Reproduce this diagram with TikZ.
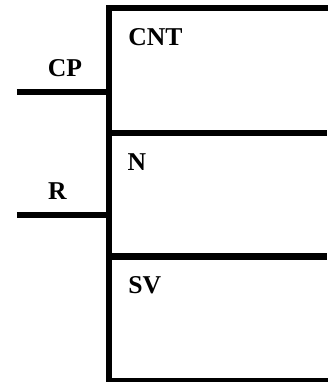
\documentclass[tikz,border=0pt]{standalone}
\usepackage{fontspec}
\setmainfont{Liberation Serif}
\tikzset{
  wire/.style={line width=0.126cm,black},
  pinlabel/.style={inner sep=0pt,font=\fontsize{14.6pt}{16pt}\selectfont\bfseries}
}
\begin{document}
\begin{tikzpicture}
    \useasboundingbox (0,0) rectangle (6.54,7.64);
    % corners of the block and its dividers
    \coordinate (topleft) at (2.18,7.48);
    \coordinate (topright) at (6.54,7.48);
    \coordinate (midleftA) at (2.18,4.986);
    \coordinate (midrightA) at (6.54,4.986);
    \coordinate (midleftB) at (2.18,2.51);
    \coordinate (midrightB) at (6.54,2.51);
    \coordinate (botleft) at (2.18,0.01);
    \coordinate (botright) at (6.54,0.01);
    % input pins
    \coordinate (cpend) at (0.34,5.806);
    \coordinate (cppin) at (2.18,5.806);
    \coordinate (rend) at (0.34,3.334);
    \coordinate (rpin) at (2.18,3.334);
    \draw[wire,line cap=rect] (topright) -- (topleft) -- (botleft) -- (botright);
    \draw[wire] (midleftA) -- (midrightA);
    \draw[wire] (midleftB) -- (midrightB);
    \draw[wire] (cpend) -- (cppin);
    \draw[wire] (rend) -- (rpin);
    \node[pinlabel] (cnt) at (3.11,6.906) {CNT};
    \node[pinlabel] (cp) at (1.3,6.28) {CP};
    \node[pinlabel] (n) at (2.74,4.4) {N};
    \node[pinlabel] (r) at (1.15,3.82) {R};
    \node[pinlabel] (sv) at (2.894,1.94) {SV};
\end{tikzpicture}
\end{document}
